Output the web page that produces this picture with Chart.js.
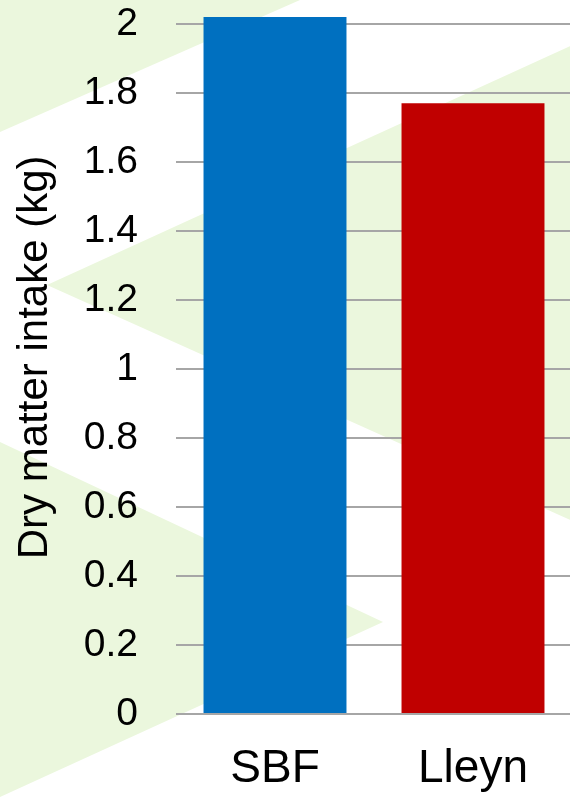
<!DOCTYPE html>
<html>
<head>
<meta charset="utf-8">
<title>Dry matter intake</title>
<script src="https://cdn.jsdelivr.net/npm/chart.js@4/dist/chart.umd.min.js"></script>
<style>
  html, body { margin: 0; padding: 0; background: #ffffff; overflow: hidden; }
  #wrap { position: relative; width: 572px; height: 797px; }
</style>
</head>
<body>
<div id="wrap"><canvas id="chart"></canvas></div>
<script>
// Breeds and their daily dry matter intake (kg)
const breeds = ['SBF', 'Lleyn'];
const intakeKg = [2.02, 1.77];
const barColours = ['#0070c0', '#c00000'];
const yTicks = { min: 0, max: 2, step: 0.2 };
const yTitle = '  Dry matter intake (kg)';

const FONT = '"Liberation Sans", Arial, sans-serif';
const WASH = '#ebf7dd';

// Pale green chevron wash painted behind the plot
const washPlugin = {
  id: 'wash',
  beforeDraw(chart) {
    const { ctx } = chart;
    const shapes = [
      [[0, 0], [300, 0], [0, 132]],
      [[47, 285], [575, 44], [575, 522]],
      [[0, 442], [383, 622], [0, 797]]
    ];
    ctx.save();
    ctx.fillStyle = WASH;
    shapes.forEach(pts => {
      ctx.beginPath();
      pts.forEach(([x, y], i) => (i ? ctx.lineTo(x, y) : ctx.moveTo(x, y)));
      ctx.closePath();
      ctx.fill();
    });
    ctx.restore();
  }
};

new Chart(document.getElementById('chart'), {
  type: 'bar',
  data: {
    labels: breeds,
    datasets: [{
      data: intakeKg,
      backgroundColor: barColours,
      borderWidth: 0,
      barPercentage: 0.722,
      categoryPercentage: 1,
      clip: false
    }]
  },
  plugins: [washPlugin],
  options: {
    responsive: true,
    maintainAspectRatio: false,
    animation: false,
    devicePixelRatio: 1,
    layout: { padding: { top: 24, right: 0, bottom: 0, left: 0 } },
    plugins: {
      legend: { display: false },
      tooltip: { enabled: false }
    },
    scales: {
      x: {
        grid: { display: false, drawTicks: false },
        border: { display: false },
        ticks: {
          color: '#000000',
          padding: 28,
          font: { family: FONT, size: 46 }
        },
        afterFit(scale) { scale.height = 83; }
      },
      y: {
        min: yTicks.min,
        max: yTicks.max,
        grid: { color: '#a6a6a6', lineWidth: 2, drawTicks: false },
        border: { display: false },
        ticks: {
          stepSize: yTicks.step,
          color: '#000000',
          padding: 38,
          font: { family: FONT, size: 39 },
          callback: v => String(Math.round(v * 10) / 10)
        },
        title: {
          display: true,
          text: yTitle,
          color: '#000000',
          font: { family: FONT, size: 42 },
          padding: { top: 10, bottom: 0 }
        },
        afterFit(scale) {
          scale.width = 176;
          // keep the plot top at the layout padding rather than label padding
          scale.paddingTop = 0;
          scale.paddingBottom = 0;
        }
      }
    }
  }
});
</script>
</body>
</html>
